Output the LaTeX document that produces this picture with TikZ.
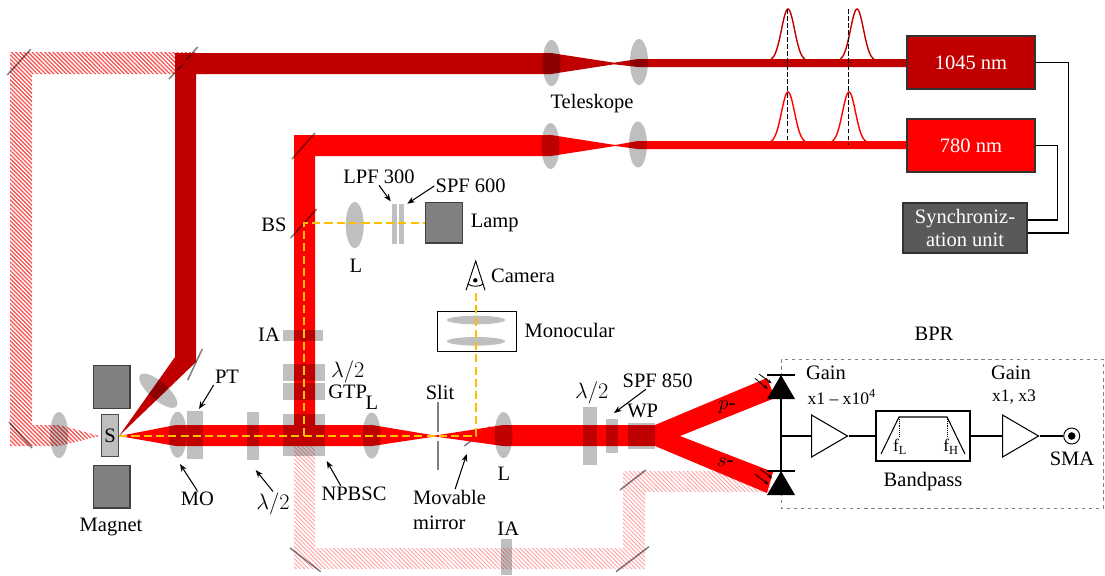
\documentclass[tikz,border=0pt]{standalone}
\usepackage{fontspec}
\setmainfont{Liberation Serif}
\usetikzlibrary{arrows.meta,patterns.meta,shapes.geometric}
\definecolor{beamdark}{RGB}{192,0,0}
\definecolor{beamred}{RGB}{255,0,0}
\definecolor{vislight}{RGB}{255,192,0}
\definecolor{hatchstrong}{RGB}{250,80,80}
\definecolor{hatchpale}{RGB}{255,165,165}
\definecolor{syncgray}{RGB}{89,89,89}
\newcommand{\halfwave}{\scalebox{1.1}{$\lambda/2$}}
\tikzset{
	lab/.style={inner sep=1pt,font=\fontsize{17.5}{21}\selectfont},
	smalllab/.style={inner sep=1pt,font=\fontsize{15}{18}\selectfont},
	lens/.style={fill=black,fill opacity=.25},
	plate/.style={fill=black,fill opacity=.25},
	mirrorline/.style={draw=black,draw opacity=.5,line width=1.3pt},
	pointer/.style={-{Stealth[length=6.5pt,width=5pt]},line width=.9pt},
	visline/.style={vislight,dash pattern=on 7pt off 3.5pt,line width=1.6pt},
	pulse/.style={line width=1.2pt,smooth},
	hatchone/.style={pattern={Lines[angle=-45,distance=2.5pt,line width=1.1pt]},pattern color=hatchstrong},
	hatchtwo/.style={pattern={Lines[angle=-45,distance=2.5pt,line width=.8pt]},pattern color=hatchpale},
	laser/.style={draw=black!80,line width=.9pt,text=white,minimum width=3.84cm,minimum height=1.59cm,lab},
	amp/.style={draw,isosceles triangle,isosceles triangle stretches,anchor=lower side,minimum width=1.26cm,minimum height=1.08cm,inner sep=0,line width=.9pt},
}
\begin{document}
\begin{tikzpicture}[x=0.03cm,y=-0.03cm]
	\useasboundingbox (0,0) rectangle (1105,575);

	% pulses
	\foreach \px/\py in {788/59,857/59}{
		\draw[pulse,beamdark] plot[domain=-17:17,samples=41] ({\px+\x},{\py+2-52*exp(0-0.5*(\x/6.5)*(\x/6.5))});
	}
	\foreach \px/\py in {788/141,849/141}{
		\draw[pulse,beamred] plot[domain=-17:17,samples=41] ({\px+\x},{\py+2-51*exp(0-0.5*(\x/6.5)*(\x/6.5))});
	}

	% beams
	\fill[hatchone] (10,52) -- (196,52) -- (196,74) -- (32,74) -- (32,425) -- (59,425) -- (100,436) -- (59,446) -- (10,446) -- cycle;
	\fill[hatchtwo] (294,446) -- (315,446) -- (315,548) -- (623,548) -- (623,471) -- (770,471) -- (770,492) -- (645,492) -- (645,569) -- (294,569) -- cycle;
	\draw[mirrorline] (464.3,446) -- (490,426.7);
	\draw[mirrorline] (169,79) -- (197.7,47);
	\fill[beamdark] (175,53) -- (551,53) -- (614,62.7) -- (638,59) -- (908,59) -- (908,67) -- (638,67) -- (614,64.3) -- (551,74) -- (196,74) -- (196,362) -- (119,436) -- (175,357) -- cycle;
	\fill[beamred] (294,135) -- (551,135) -- (615,145) -- (638,141) -- (908,141) -- (908,149) -- (638,149) -- (615,146) -- (551,156) -- (315,156) -- (315,430) -- (294,430) -- cycle;
	\fill[beamred] (119,436) -- (176,425) -- (372,425) -- (435,435.5) -- (503,425) -- (655,425) -- (767,378) -- (775,398) -- (680,436) -- (773,472) -- (767,493) -- (655,446) -- (503,446) -- (435,436.5) -- (372,446) -- (176,446) -- cycle;

	% lenses
	\foreach \lx/\ly in {551.5/63,639/62,550.5/146,638/144.5,354.7/225,59/435,177.7/434.7,371.7/435.5,503.5/435}{
		\fill[lens] (\lx,\ly) ellipse [x radius=9,y radius=23];
	}
	\fill[lens,shift={(158.3,390.7)},rotate=-41] (0,0) ellipse [x radius=24,y radius=9];

	% plates
	\foreach \xa/\ya/\xb/\yb in {187/411/203/459,247/412/259/460,283.3/414/325/456,283.3/364/325/381,283.3/383/325/400,283/330/323/341,392/204/397.3/244,399/204/404/244,500.7/539/512/575,583/407/597/465,606/419/618/453,628/423/655/449}{
		\fill[plate] (\xa,\ya) rectangle (\xb,\yb);
	}

	% mirrors
	\foreach \xa/\ya/\xb/\yb in {7.3/75/30.7/49.3,292/159/315/133,290.7/238/316.7/209,187.7/380/202.3/349,9/422/32/448,290/548/320.7/571.7,620/490/645.7/470,616/571.7/649/546.7}{
		\draw[mirrorline] (\xa,\ya) -- (\xb,\yb);
	}
	\draw[mirrorline] (177.3,70) -- (182.7,65);
	\draw[mirrorline] (186,60) -- (190.7,55);
	\draw[gray,line width=1.7pt] (438.3,401.7) -- (438.3,431.7);
	\draw[gray,line width=1.7pt] (438.3,441) -- (438.3,470);

	% sample, magnets, lamp
	\fill[black!25,draw=black!70] (101.7,414.7) rectangle (118,456.3);
	\node[lab] (sample) at (110,436) {S};
	\foreach \ya/\yb in {365.7/408.3,465.3/508}{
		\draw[fill=gray,draw=black!75,line width=.9pt] (93.7,\ya) rectangle (130,\yb);
	}
	\draw[fill=gray,draw=black!75,line width=.9pt] (425.7,202.7) rectangle (462.7,243);

	% monocular and camera
	\draw[line width=.8pt] (437,311) rectangle (516.7,351);
	\foreach \ly in {320,341.3}{
		\fill[lens] (476,\ly) ellipse [x radius=29,y radius=4.3];
	}
	\draw[line width=.8pt] (466,290.3) -- (475.7,261) -- (485,290.3);
	\draw[line width=.8pt] (467.7,284) .. controls (472,287) and (479,287) .. (483.3,284);
	\fill (475.3,280.3) circle [radius=2.2];

	% visible light path
	\draw[visline] (119,436) -- (476,436) -- (476,290);
	\draw[visline] (303.7,436) -- (303.7,223) -- (425,223);

	% pulse timing
	\draw[line width=.8pt,dash pattern=on 4pt off 2pt] (787.7,9) -- (787.7,142);
	\draw[line width=.8pt,dash pattern=on 4pt off 2pt] (848.7,9) -- (848.7,145);

	% lasers
	\node[laser,fill=beamdark] (lasera) at (971,62.5) {1045 nm};
	\node[laser,fill=beamred] (laserb) at (971,145.5) {780 nm};
	\node[draw=black!80,fill=syncgray,text=white,minimum width=3.72cm,minimum height=1.5cm,align=center,line width=.9pt,lab] (sync) at (965,228) {Synchroniz-\\[-1pt]ation unit};
	\draw[line width=1.1pt] (laserb.east) -- ++(22,0) |- ([yshift=.24cm]sync.east);
	\draw[line width=1.1pt] (lasera.east) -- ++(33,0) |- ([yshift=-.15cm]sync.east);

	% detectors
	\draw[gray,dashed,line width=.7pt] (781,359) rectangle (1103,508);
	\fill (781,375) -- (795,399) -- (767,399) -- cycle;
	\fill (781,471) -- (795,495) -- (767,495) -- cycle;
	\coordinate (detp) at (781,375);
	\coordinate (dets) at (781,471);
	\coordinate (busmid) at (781,436);
	\draw[line width=.9pt] (767,375) -- (795,375);
	\draw[line width=.9pt] (767,471) -- (795,471);
	\draw[line width=.9pt] (detp) -- (dets);
	\foreach \xa/\ya/\xb/\yb in {759/374/771.7/383.3,755/378.3/767.7/389,760/469/772.3/478.3,755.3/474.3/768.3/484.3}{
		\draw[-{Stealth[length=4pt,width=3pt]},line width=.7pt] (\xa,\ya) -- (\xb,\yb);
	}

	% amplifier chain
	\node[amp] (ampa) at (811,436) {};
	\node[draw,minimum width=2.82cm,minimum height=1.5cm,line width=.9pt] (bandpass) at (923,436) {};
	\node[amp] (ampb) at (1002,436) {};
	\node[draw,circle,minimum size=.48cm,inner sep=0,line width=.8pt] (sma) at (1071.7,436) {};
	\fill (sma) circle [radius=3.8];
	\draw[line width=.9pt] (busmid) -- (ampa.lower side);
	\draw[line width=.9pt] (ampa.apex) -- (bandpass.west);
	\draw[line width=.9pt] (bandpass.east) -- (ampb.lower side);
	\draw[line width=.9pt] (ampb.apex) -- (sma.west);
	\draw[line width=.9pt] (881,454) -- (899,417) -- (947,417) -- (965,454);
	\draw[densely dotted,line width=.6pt] (899,417) -- (899,437);
	\draw[densely dotted,line width=.6pt] (947.7,417) -- (947.7,437);
	\node[smalllab] (flow) at (900,447) {f\textsubscript{L}};
	\node[smalllab] (fhigh) at (951,447) {f\textsubscript{H}};

	% labels
	\node[lab] (teleskope) at (592,104) {Teleskope};
	\node[lab] (bs) at (274,225) {BS};
	\node[lab] (lpf) at (379,177) {LPF 300};
	\node[lab] (spfa) at (470.7,186) {SPF 600};
	\node[lab] (lamp) at (494.7,223) {Lamp};
	\node[lab] (lensa) at (356,266) {L};
	\node[lab] (camera) at (523,276) {Camera};
	\node[lab] (monocular) at (569.7,330) {Monocular};
	\node[lab] (iaa) at (269,335) {IA};
	\node[lab] (lama) at (347.7,372) {\halfwave};
	\node[lab] (gtp) at (347.7,392) {GTP};
	\node[lab] (lensb) at (372,403) {L};
	\node[lab] (pt) at (227,377) {PT};
	\node[lab] (mo) at (197.3,499) {MO};
	\node[lab] (lamb) at (273,504) {\halfwave};
	\node[lab] (npbsc) at (354,494) {NPBSC};
	\node[lab] (magnet) at (111,527) {Magnet};
	\node[lab] (slit) at (440,392) {Slit};
	\node[lab,align=left] (movable) at (449.5,510) {Movable\\mirror};
	\node[lab] (lensc) at (504,474) {L};
	\node[lab] (iab) at (508.3,529) {IA};
	\node[lab] (lamc) at (591.7,393) {\halfwave};
	\node[lab] (spfb) at (657.7,381) {SPF 850};
	\node[lab] (wp) at (642.7,411) {WP};
	\node[lab] (parm) at (727,407) {$p$-};
	\node[lab] (sarm) at (725.3,462) {$s$-};
	\node[lab] (bpr) at (934,334) {BPR};
	\node[lab] (gaina) at (826,373) {Gain};
	\node[smalllab] (rangea) at (841.7,397) {x1 -- x10\textsuperscript{4}};
	\node[lab] (gainb) at (1011,373) {Gain};
	\node[smalllab] (rangeb) at (1014,397) {x1, x3};
	\node[lab] (bandlab) at (923,482) {Bandpass};
	\node[lab] (smalab) at (1072,459) {SMA};

	% pointers
	\coordinate (lpftip) at (390.7,201.3);
	\coordinate (spfatip) at (407.3,203.7);
	\coordinate (pttip) at (199,409);
	\coordinate (motip) at (180,464);
	\coordinate (lambtip) at (255.7,470);
	\coordinate (npbsctip) at (326.7,461);
	\coordinate (movtip) at (466.7,454);
	\coordinate (spfbtip) at (614,413);
	\draw[pointer] (lpf.south) -- (lpftip);
	\draw[pointer] (spfa.west) -- (spfatip);
	\draw[pointer] (pt.south west) -- (pttip);
	\draw[pointer] (mo.north) -- (motip);
	\draw[pointer] (lamb.north) -- (lambtip);
	\draw[pointer] (npbsc.148) -- (npbsctip);
	\draw[pointer] (movable.75) -- (movtip);
	\draw[pointer] (spfb.215) -- (spfbtip);
\end{tikzpicture}
\end{document}
